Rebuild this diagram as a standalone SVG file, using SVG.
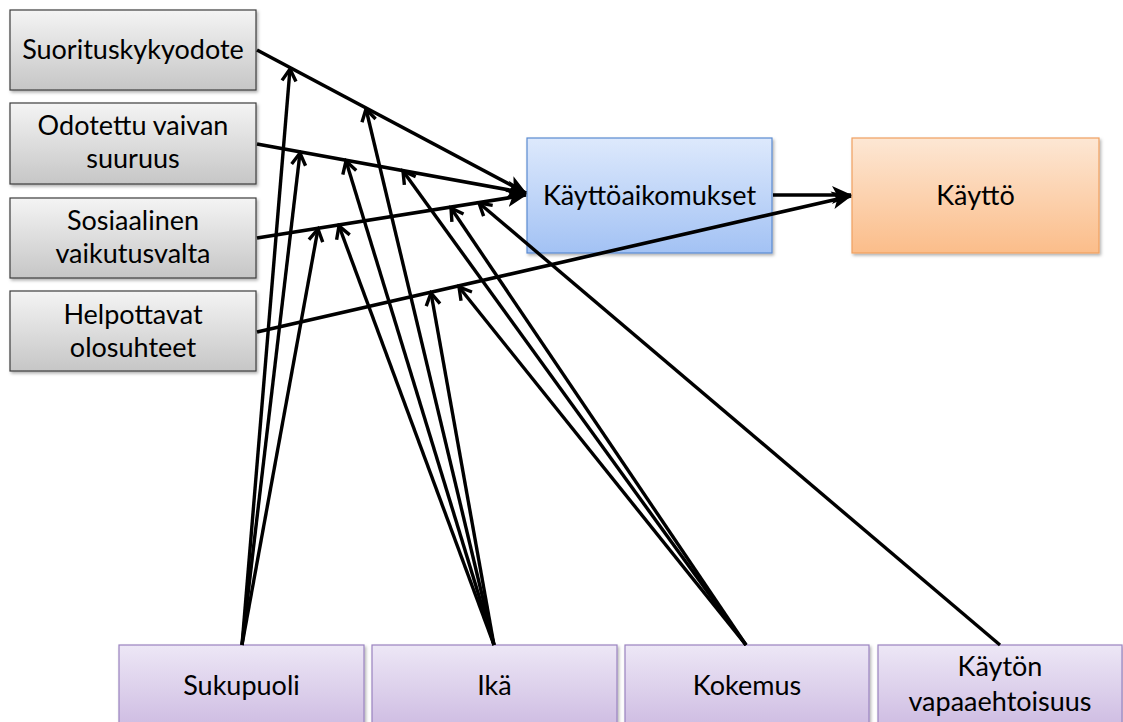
<svg xmlns="http://www.w3.org/2000/svg" width="1123" height="722" viewBox="0 0 1123 722">
  <style>
    .lbl { font-family: Lato, "Open Sans", "Liberation Sans", sans-serif; font-size: 27px; fill: #000; text-anchor: middle; }
    .box { stroke-width: 1.2; filter: url(#shadow); }
    .gray { fill: url(#gGray); stroke: #3c3c3c; }
    .blue { fill: url(#gBlue); stroke: #5b8bd1; }
    .orange { fill: url(#gOrange); stroke: #f0a060; }
    .purple { fill: url(#gPurple); stroke: #9a83c0; }
    .main { stroke: #000; stroke-width: 3.6; fill: none; marker-end: url(#solidHead); }
    .mod { stroke: #000; stroke-width: 3.4; fill: none; marker-end: url(#openHead); }
  </style>
  <defs>
    <linearGradient id="gGray" x1="0" y1="0" x2="0" y2="1">
      <stop offset="0" stop-color="#f4f4f4"/>
      <stop offset="1" stop-color="#c6c6c6"/>
    </linearGradient>
    <linearGradient id="gBlue" x1="0" y1="0" x2="0" y2="1">
      <stop offset="0" stop-color="#dde9fc"/>
      <stop offset="1" stop-color="#a3c2f4"/>
    </linearGradient>
    <linearGradient id="gOrange" x1="0" y1="0" x2="0" y2="1">
      <stop offset="0" stop-color="#fde7d4"/>
      <stop offset="1" stop-color="#fbbd8a"/>
    </linearGradient>
    <linearGradient id="gPurple" x1="0" y1="0" x2="0" y2="1">
      <stop offset="0" stop-color="#ede7f6"/>
      <stop offset="1" stop-color="#cbb8e0"/>
    </linearGradient>
    <filter id="shadow" x="-5%" y="-5%" width="115%" height="120%">
      <feDropShadow dx="1.5" dy="2" stdDeviation="1.5" flood-color="#000" flood-opacity="0.3"/>
    </filter>
    <marker id="solidHead" markerUnits="userSpaceOnUse" viewBox="0 0 20 20" refX="19" refY="10" markerWidth="20" markerHeight="20" orient="auto">
      <path d="M0,1 L20,10 L0,19 L5,10 z" fill="#000"/>
    </marker>
    <marker id="openHead" markerUnits="userSpaceOnUse" viewBox="0 0 18 18" refX="15" refY="9" markerWidth="18" markerHeight="18" orient="auto">
      <path d="M3,2 L15,9 L3,16" fill="none" stroke="#000" stroke-width="3.4"/>
    </marker>
  </defs>

  <rect width="1123" height="722" fill="#fff"/>

  <!-- determinants -->
  <g id="suorituskykyodote">
    <rect class="box gray" x="10" y="10" width="246" height="80"/>
    <text class="lbl" x="133" y="59">Suorituskykyodote</text>
  </g>
  <g id="odotettu-vaivan-suuruus">
    <rect class="box gray" x="10" y="103" width="246" height="81"/>
    <text class="lbl" x="133" y="135">Odotettu vaivan</text>
    <text class="lbl" x="133" y="168">suuruus</text>
  </g>
  <g id="sosiaalinen-vaikutusvalta">
    <rect class="box gray" x="10" y="198" width="246" height="80"/>
    <text class="lbl" x="133" y="230">Sosiaalinen</text>
    <text class="lbl" x="133" y="263">vaikutusvalta</text>
  </g>
  <g id="helpottavat-olosuhteet">
    <rect class="box gray" x="10" y="291" width="246" height="80"/>
    <text class="lbl" x="133" y="324">Helpottavat</text>
    <text class="lbl" x="133" y="357">olosuhteet</text>
  </g>

  <!-- outcomes -->
  <g id="kayttoaikomukset">
    <rect class="box blue" x="527" y="138" width="245" height="115"/>
    <text class="lbl" x="649.5" y="205">Käyttöaikomukset</text>
  </g>
  <g id="kaytto">
    <rect class="box orange" x="852" y="138" width="247" height="115"/>
    <text class="lbl" x="975.5" y="205">Käyttö</text>
  </g>

  <!-- moderators -->
  <g id="sukupuoli">
    <rect class="box purple" x="119" y="645" width="245" height="90"/>
    <text class="lbl" x="241.5" y="695">Sukupuoli</text>
  </g>
  <g id="ika">
    <rect class="box purple" x="372" y="645" width="245" height="90"/>
    <text class="lbl" x="494.5" y="695">Ikä</text>
  </g>
  <g id="kokemus">
    <rect class="box purple" x="625" y="645" width="244" height="90"/>
    <text class="lbl" x="747" y="695">Kokemus</text>
  </g>
  <g id="kayton-vapaaehtoisuus">
    <rect class="box purple" x="878" y="645" width="244" height="90"/>
    <text class="lbl" x="1000" y="676">Käytön</text>
    <text class="lbl" x="1000" y="711">vapaaehtoisuus</text>
  </g>

  <g id="connectors">
    <!-- direct effects -->
    <line class="main" x1="257" y1="50" x2="526" y2="193"/>
    <line class="main" x1="257" y1="144" x2="526" y2="193"/>
    <line class="main" x1="257" y1="238" x2="526" y2="195"/>
    <line class="main" x1="257" y1="332" x2="851" y2="196"/>
    <line class="main" x1="773" y1="195" x2="851" y2="195"/>

    <!-- Sukupuoli -->
    <line class="mod" x1="242" y1="645" x2="290" y2="69"/>
    <line class="mod" x1="242" y1="645" x2="300" y2="153"/>
    <line class="mod" x1="242" y1="645" x2="318" y2="229"/>
    <!-- Ikä -->
    <line class="mod" x1="494" y1="645" x2="366" y2="109"/>
    <line class="mod" x1="494" y1="645" x2="346" y2="161"/>
    <line class="mod" x1="494" y1="645" x2="339" y2="226"/>
    <line class="mod" x1="494" y1="645" x2="431" y2="293"/>
    <!-- Kokemus -->
    <line class="mod" x1="746" y1="645" x2="403" y2="171"/>
    <line class="mod" x1="746" y1="645" x2="451" y2="208"/>
    <line class="mod" x1="746" y1="645" x2="459" y2="287"/>
    <!-- Käytön vapaaehtoisuus -->
    <line class="mod" x1="1000" y1="645" x2="479" y2="203"/>
  </g>
</svg>
